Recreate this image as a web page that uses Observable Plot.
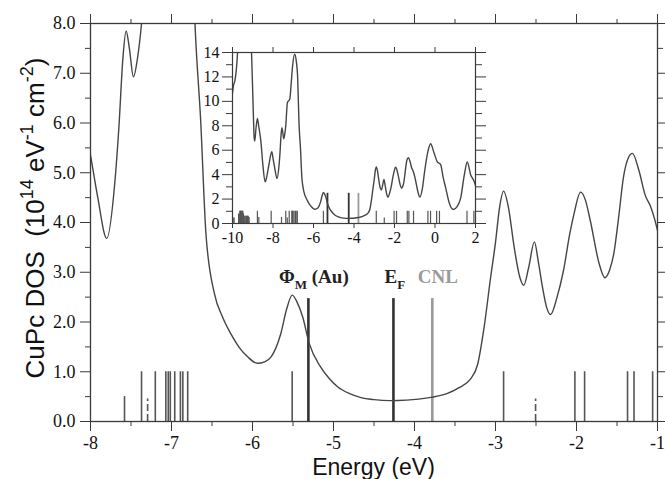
<!DOCTYPE html>
<html>
<head>
<meta charset="utf-8">
<script src="https://cdn.jsdelivr.net/npm/d3@7"></script>
<script src="https://cdn.jsdelivr.net/npm/@observablehq/plot@0.6"></script>
<style>
  html, body { margin: 0; padding: 0; background: white; }
  #wrap { position: relative; width: 665px; height: 479px; overflow: hidden; }
  #inset { position: absolute; left: 198px; top: 42px; }
</style>
</head>
<body>
<div id="wrap"><div id="main"></div><div id="inset"></div></div>
<script>
// ---- DOS curve (energy in eV, DOS in 10^14 eV^-1 cm^-2); NaN = off-scale gap
const energy = [
  -10.00, -9.95, -9.88, -9.80, -9.75, -9.72, -9.40, -9.09, -9.06, -8.98, -8.93, -8.90,
  -8.84, -8.77, -8.70, -8.60, -8.50, -8.39, -8.30, -8.20, -8.06, -8.00, -7.91, -7.80,
  -7.70, -7.65, -7.60, -7.56, -7.52, -7.47, -7.42, -7.37, -7.29, -7.17, -7.10, -7.04,
  -6.93, -6.85, -6.79, -6.71, -6.64, -6.575, -6.47, -6.37, -6.27, -6.16, -6.06, -5.94,
  -5.85, -5.77, -5.65, -5.58, -5.51, -5.45, -5.38, -5.30, -5.16, -5.05, -4.95, -4.80,
  -4.66, -4.50, -4.30, -4.10, -3.95, -3.78, -3.60, -3.45, -3.31, -3.22, -3.14, -3.06,
  -3.00, -2.95, -2.90, -2.84, -2.77, -2.70, -2.65, -2.59, -2.52, -2.47, -2.42, -2.37,
  -2.32, -2.24, -2.16, -2.08, -2.03, -1.95, -1.89, -1.83, -1.72, -1.65, -1.59, -1.54,
  -1.48, -1.42, -1.36, -1.31, -1.23, -1.15, -1.09, -1.00, -0.92, -0.83, -0.745, -0.62,
  -0.51, -0.35, -0.217, -0.05, 0.113, 0.28, 0.40, 0.53, 0.70, 0.903, 1.10, 1.27,
  1.45, 1.593, 1.76, 1.92, 2.00
];
const dos = [
  10.7, 11.3, 11.7, 12.8, 14.0, 15.0, NaN, 15.0, 14.0, 9.5, 7.02, 6.75,
  7.8, 8.61, 7.9, 6.75, 4.8, 3.41, 3.9, 4.83, 5.87, 5.35, 4.5, 3.68,
  4.8, 5.9, 7.3, 7.85, 7.5, 6.93, 7.3, 8.0, 9.89, 10.2, 11.5, 12.77,
  13.86, 13.3, 12.2, 8.0, 6.05, 3.78, 2.57, 2.1, 1.77, 1.48, 1.30, 1.17,
  1.20, 1.30, 1.77, 2.25, 2.54, 2.40, 2.10, 1.57, 1.10, 0.86, 0.70, 0.56,
  0.48, 0.44, 0.42, 0.43, 0.45, 0.49, 0.56, 0.68, 0.85, 1.15, 1.90, 2.90,
  3.60, 4.30, 4.63, 4.30, 3.51, 2.90, 2.74, 3.10, 3.61, 3.20, 2.70, 2.30,
  2.15, 2.50, 3.04, 3.80, 4.18, 4.61, 4.45, 4.04, 3.17, 2.89, 3.05, 3.37,
  4.10, 4.91, 5.30, 5.39, 5.05, 4.54, 4.34, 3.84, 3.20, 2.50, 2.16, 2.90,
  4.29, 5.90, 6.53, 5.79, 5.05, 4.83, 3.80, 2.90, 1.70, 1.15, 1.40, 2.10,
  4.00, 5.03, 4.00, 3.50, 3.10
];

// ---- molecular levels (sticks)
const levelE = [
  -9.97, -9.92, -9.70, -9.67, -9.64, -9.61, -9.58, -9.55, -9.52, -9.49, -9.46, -9.42,
  -9.38, -9.34, -9.30, -9.26, -9.22, -9.18,
  -8.77, -8.70, -8.09,
  -7.58, -7.37, -7.20, -7.07, -7.04, -7.015, -6.96, -6.89, -6.86, -6.80, -5.51,
  -2.90, -2.02, -1.90, -1.37, -1.29, -1.06,
  -0.35, -0.22, 0.08, 0.22, 1.58, 1.92
];
const levelH = [
  0.45, 0.45, 0.75, 0.8, 1.0, 1.0, 1.0, 1.0, 1.0, 1.0, 0.8, 0.6,
  0.6, 0.6, 0.6, 0.6, 0.6, 0.5,
  1.0, 0.5, 1.0,
  0.5, 1.0, 1.0, 1.0, 1.0, 1.0, 1.0, 1.0, 1.0, 1.0, 1.0,
  1.0, 1.0, 1.0, 1.0, 1.0, 1.0,
  1.0, 1.0, 1.0, 1.0, 1.0, 1.0
];
const dashE = [-7.295, -2.505];
const dashH = [0.45, 0.45];

// ---- reference energies
const refNames = ["PhiM", "EF", "CNL"];
const refE = [-5.31, -4.26, -3.78];
const refH = [2.47, 2.47, 2.47];

// ---- ticks
const mainXTicks = [-8, -7, -6, -5, -4, -3, -2, -1];
const mainXMinor = [-7.5, -6.5, -5.5, -4.5, -3.5, -2.5, -1.5];
const mainYTicks = [0, 1, 2, 3, 4, 5, 6, 7, 8];
const mainYMinor = [0.5, 1.5, 2.5, 3.5, 4.5, 5.5, 6.5, 7.5];
const insetXTicks = [-10, -8, -6, -4, -2, 0, 2];
const insetYTicks = [0, 2, 4, 6, 8, 10, 12, 14];
const insetYMinor = [1, 3, 5, 7, 9, 11, 13];

const curve = energy.map((e, i) => ({e, d: dos[i]}));
const levels = levelE.map((e, i) => ({e, h: levelH[i]}));
const dashes = dashE.map((e, i) => ({e, h: dashH[i]}));
const refs = refNames.map((n, i) => ({n, e: refE[i], h: refH[i]}));

const INK = "#3a3a3a";
const blank = () => "";

function stickMarks(xmin, xmax, sw, refW) {
  const inR = d => d.e >= xmin && d.e <= xmax;
  return [
    Plot.ruleX(levels.filter(inR), {x: "e", y1: 0, y2: "h", stroke: "#555", strokeWidth: sw}),
    Plot.ruleX(dashes.filter(inR), {x: "e", y1: 0, y2: "h", stroke: "#555", strokeWidth: sw, strokeDasharray: "7,3"}),
    Plot.ruleX(refs.filter(d => d.n !== "CNL"), {x: "e", y1: 0, y2: "h", stroke: "#333", strokeWidth: refW}),
    Plot.ruleX(refs.filter(d => d.n === "CNL"), {x: "e", y1: 0, y2: "h", stroke: "#9a9a9a", strokeWidth: refW})
  ];
}

const main = Plot.plot({
  width: 665, height: 479,
  marginLeft: 90, marginRight: 8, marginTop: 23, marginBottom: 58,
  x: {domain: [-8, -1]},
  y: {domain: [0, 8]},
  style: {fontFamily: "Liberation Serif", fontSize: "18px", color: INK, background: "white", overflow: "visible"},
  marks: [
    ...stickMarks(-8, -1, 1.6, 2.6),
    Plot.line(curve, {x: "e", y: "d", curve: "monotone-x", clip: true, stroke: "#454545", strokeWidth: 1.4}),
    Plot.frame({stroke: INK, strokeWidth: 1.3}),
    Plot.axisX({ticks: mainXTicks, tickSize: 10, tickPadding: 5, tickFormat: d => String(d), label: null, fill: "#111"}),
    Plot.axisX({ticks: mainXMinor, tickSize: 5, tickFormat: blank, label: null}),
    Plot.axisX({anchor: "top", ticks: mainXTicks, tickSize: 10, tickFormat: blank, label: null}),
    Plot.axisX({anchor: "top", ticks: mainXMinor, tickSize: 5, tickFormat: blank, label: null}),
    Plot.axisY({ticks: mainYTicks, tickSize: 10, tickPadding: 5, tickFormat: d3.format(".1f"), label: null, fill: "#111"}),
    Plot.axisY({ticks: mainYMinor, tickSize: 5, tickFormat: blank, label: null}),
    Plot.axisY({anchor: "right", ticks: mainYTicks, tickSize: 10, tickFormat: blank, label: null}),
    Plot.axisY({anchor: "right", ticks: mainYMinor, tickSize: 5, tickFormat: blank, label: null})
  ]
});
document.getElementById("main").appendChild(main);

// axis titles and level annotations (positioned through the plot's scales)
const sx = main.scale("x"), sy = main.scale("y");
const svg = d3.select(main);
const x0 = sx.apply(-8), x1 = sx.apply(-1), y0 = sy.apply(0), y8 = sy.apply(8);

svg.append("text")
  .attr("x", (x0 + x1) / 2).attr("y", y0 + 54)
  .attr("text-anchor", "middle")
  .style("font-family", "Liberation Sans, Arial, sans-serif").style("font-size", "23px").attr("fill", "#111")
  .text("Energy (eV)");

const yl = svg.append("text")
  .attr("transform", `translate(44,${(y0 + y8) / 2 - 4}) rotate(-90)`)
  .attr("text-anchor", "middle")
  .style("font-family", "Liberation Sans, Arial, sans-serif").style("font-size", "26px").attr("fill", "#111");
yl.append("tspan").text("CuPc DOS  (10");
yl.append("tspan").attr("dy", -11).style("font-size", "18px").text("14");
yl.append("tspan").attr("dy", 11).text(" eV");
yl.append("tspan").attr("dy", -11).style("font-size", "18px").text("-1");
yl.append("tspan").attr("dy", 11).text(" cm");
yl.append("tspan").attr("dy", -11).style("font-size", "18px").text("-2");
yl.append("tspan").attr("dy", 11).text(")");

const labelY = sy.apply(refH[0]) - 15;
const lab = (e, dx, fill) => svg.append("text")
  .attr("x", sx.apply(e) + dx).attr("y", labelY)
  .attr("text-anchor", "middle")
  .style("font-family", "Liberation Serif, serif").style("font-size", "19px").style("font-weight", "bold")
  .attr("fill", fill);
const t1 = lab(refE[0], 6, "#222");
t1.append("tspan").text("Φ");
t1.append("tspan").attr("dy", 6).style("font-size", "13px").text("M");
t1.append("tspan").attr("dy", -6).text(" (Au)");
const t2 = lab(refE[1], 2, "#222");
t2.append("tspan").text("E");
t2.append("tspan").attr("dy", 6).style("font-size", "13px").text("F");
const t3 = lab(refE[2], 6, "#9a9a9a");
t3.text("CNL");

// ---- inset
const inset = Plot.plot({
  width: 291, height: 207,
  marginLeft: 34, marginRight: 14, marginTop: 10, marginBottom: 26,
  x: {domain: [-10, 2]},
  y: {domain: [0, 14]},
  style: {fontFamily: "Liberation Serif", fontSize: "16px", color: INK, background: "transparent", overflow: "visible"},
  marks: [
    Plot.frame({fill: "white"}),
    ...stickMarks(-10, 2, 1.2, 1.8),
    Plot.line(curve, {x: "e", y: "d", curve: "monotone-x", clip: true, stroke: "#454545", strokeWidth: 1.4}),
    Plot.frame({stroke: INK, strokeWidth: 1.2}),
    Plot.axisX({ticks: insetXTicks, tickSize: 5, tickPadding: 3, tickFormat: d => String(d), label: null, fill: "#111"}),
    Plot.axisX({anchor: "top", ticks: insetXTicks, tickSize: 6, tickFormat: blank, label: null}),
    Plot.axisY({ticks: insetYTicks, tickSize: 10, tickPadding: 3, tickFormat: d => String(d), label: null, fill: "#111"}),
    Plot.axisY({ticks: insetYMinor, tickSize: 6, tickFormat: blank, label: null}),
    Plot.axisY({anchor: "right", ticks: insetYTicks, tickSize: 10, tickFormat: blank, label: null}),
    Plot.axisY({anchor: "right", ticks: insetYMinor, tickSize: 6, tickFormat: blank, label: null})
  ]
});
document.getElementById("inset").appendChild(inset);
</script>
</body>
</html>
